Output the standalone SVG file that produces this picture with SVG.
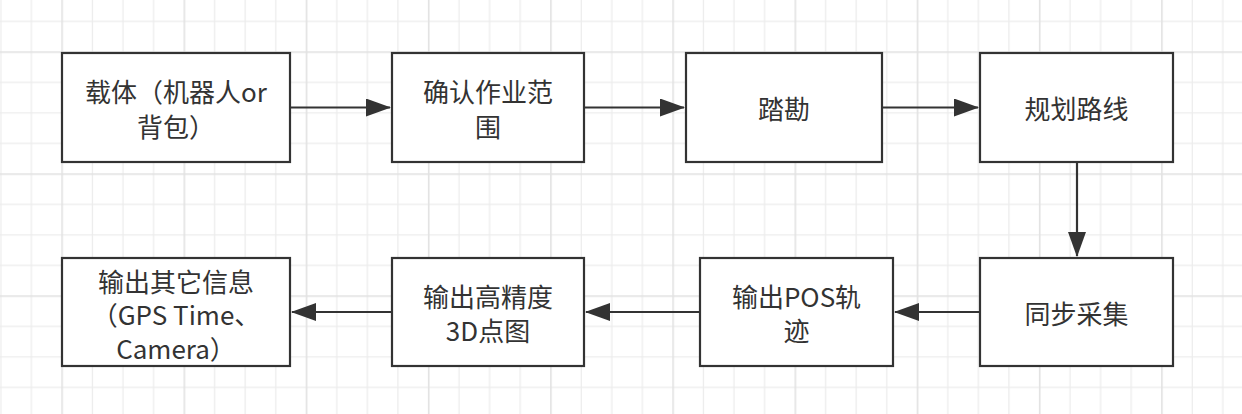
<svg xmlns="http://www.w3.org/2000/svg" width="1242" height="414" viewBox="0 0 1242 414">
  <style>
    .box { fill: #ffffff; stroke: #333333; stroke-width: 2.2; }
    .edge { fill: none; stroke: #333333; stroke-width: 2.2; }
    .lbl { font-family: "Noto Sans CJK SC", "Noto Sans", sans-serif; font-size: 26px; fill: #333333; text-anchor: middle; dominant-baseline: central; }
  </style>
  <defs>
    <pattern id="grid" patternUnits="userSpaceOnUse" x="61.3" y="51.3" width="122.2" height="122">
      <rect x="0" y="0" width="122.2" height="122" fill="#ffffff"/>
      <rect x="30.55" y="0" width="1.2" height="122" fill="#ececec"/>
      <rect x="61.1" y="0" width="1.2" height="122" fill="#ececec"/>
      <rect x="91.65" y="0" width="1.2" height="122" fill="#ececec"/>
      <rect x="0" y="30.5" width="122.2" height="1.2" fill="#ececec"/>
      <rect x="0" y="61" width="122.2" height="1.2" fill="#ececec"/>
      <rect x="0" y="91.5" width="122.2" height="1.2" fill="#ececec"/>
      <rect x="0" y="0" width="1.6" height="122" fill="#e2e2e2"/>
      <rect x="0" y="0" width="122.2" height="1.6" fill="#e2e2e2"/>
    </pattern>
    <marker id="arrow" viewBox="0 0 25 18" refX="24" refY="9" markerWidth="25" markerHeight="18" markerUnits="userSpaceOnUse" orient="auto">
      <path d="M0,0 L25,9 L0,18 Z" fill="#333333"/>
    </marker>
  </defs>
  <rect x="0" y="0" width="1242" height="414" fill="url(#grid)"/>

  <g id="connectors">
    <line class="edge" x1="290" y1="107.5" x2="390" y2="107.5" marker-end="url(#arrow)"/>
    <line class="edge" x1="584" y1="107.5" x2="684" y2="107.5" marker-end="url(#arrow)"/>
    <line class="edge" x1="882" y1="107.5" x2="978" y2="107.5" marker-end="url(#arrow)"/>
    <line class="edge" x1="1077" y1="162" x2="1077" y2="256" marker-end="url(#arrow)"/>
    <line class="edge" x1="980" y1="312" x2="895" y2="312" marker-end="url(#arrow)"/>
    <line class="edge" x1="700" y1="312" x2="586" y2="312" marker-end="url(#arrow)"/>
    <line class="edge" x1="392" y1="312" x2="292" y2="312" marker-end="url(#arrow)"/>
  </g>

  <g id="node1">
    <rect class="box" x="62" y="53" width="228" height="109"/>
    <text class="lbl" x="176" y="90.5">载体（机器人or</text>
    <text class="lbl" x="176" y="125">背包）</text>
  </g>
  <g id="node2">
    <rect class="box" x="392" y="53" width="192" height="109"/>
    <text class="lbl" x="488" y="90.5">确认作业范</text>
    <text class="lbl" x="488" y="125">围</text>
  </g>
  <g id="node3">
    <rect class="box" x="686" y="53" width="196" height="109"/>
    <text class="lbl" x="784" y="107.5">踏勘</text>
  </g>
  <g id="node4">
    <rect class="box" x="980" y="53" width="193" height="109"/>
    <text class="lbl" x="1076.5" y="107.5">规划路线</text>
  </g>
  <g id="node5">
    <rect class="box" x="980" y="258" width="193" height="108"/>
    <text class="lbl" x="1076.5" y="312">同步采集</text>
  </g>
  <g id="node6">
    <rect class="box" x="700" y="258" width="193" height="108"/>
    <text class="lbl" x="796.5" y="295">输出POS轨</text>
    <text class="lbl" x="796.5" y="329">迹</text>
  </g>
  <g id="node7">
    <rect class="box" x="392" y="258" width="192" height="108"/>
    <text class="lbl" x="488" y="295">输出高精度</text>
    <text class="lbl" x="488" y="329">3D点图</text>
  </g>
  <g id="node8">
    <rect class="box" x="62" y="258" width="228" height="108"/>
    <text class="lbl" x="176" y="280">输出其它信息</text>
    <text class="lbl" x="176" y="313.5">（GPS Time、</text>
    <text class="lbl" x="176" y="347">Camera）</text>
  </g>
</svg>
